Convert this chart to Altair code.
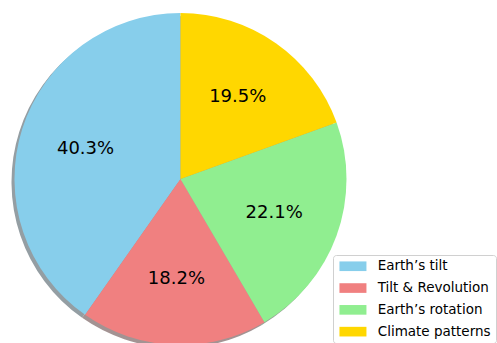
import altair as alt
import pandas as pd

categories = ["Earth\u2019s tilt", "Tilt & Revolution", "Earth\u2019s rotation", "Climate patterns"]
values = [40.3, 18.2, 22.1, 19.5]
labels = ["40.3%", "18.2%", "22.1%", "19.5%"]
colors = ["#87CEEB", "#F08080", "#90EE90", "#FFD700"]
shadow_colors = ["#949ea3", "#a39393", "#97a497", "#a6a08a"]
# clockwise order from 12 o'clock (matplotlib draws counter-clockwise)
draw_order = [4, 3, 2, 1]

df = pd.DataFrame({
    "cat": categories, "val": values, "lab": labels,
    "ord": draw_order, "shadow": shadow_colors,
})

CX, CY, R = 180.5, 179, 166

theta = alt.Theta("val:Q", stack=True)
order = alt.Order("ord:Q")

shadow = alt.Chart(df).mark_arc(outerRadius=R, strokeWidth=0).encode(
    theta=theta, order=order,
    color=alt.Color("shadow:N", scale=None),
    x=alt.value(CX - 3), y=alt.value(CY + 3),
)

pie = alt.Chart(df).mark_arc(outerRadius=R, strokeWidth=0).encode(
    theta=theta, order=order,
    color=alt.Color(
        "cat:N",
        scale=alt.Scale(domain=categories, range=colors),
        sort=categories,
        legend=alt.Legend(
            title=None, orient="none", legendX=333, legendY=255,
            padding=4.5, strokeColor="#d0d0d0", fillColor="#ffffff",
            cornerRadius=3, labelFont="DejaVu Sans", labelFontSize=13.5,
            labelColor="#000000", symbolType="M-2.8,-1H2.8V1H-2.8Z",
            symbolSize=93, symbolStrokeWidth=0, symbolOpacity=1,
            rowPadding=6.8, labelOffset=18, symbolOffset=8.7,
        ),
    ),
    x=alt.value(CX), y=alt.value(CY),
)

text = alt.Chart(df).mark_text(radius=R * 0.6, font="DejaVu Sans", fontSize=18, color="#000000").encode(
    theta=theta, order=order, text="lab:N",
    x=alt.value(CX), y=alt.value(CY),
)

chart = alt.layer(shadow, pie, text).properties(
    width=497, height=343, autosize=alt.AutoSizeParams(type="none"), padding=0,
).configure_view(stroke=None)

chart.save("out.html", embed_options={"renderer": "svg", "actions": False})
